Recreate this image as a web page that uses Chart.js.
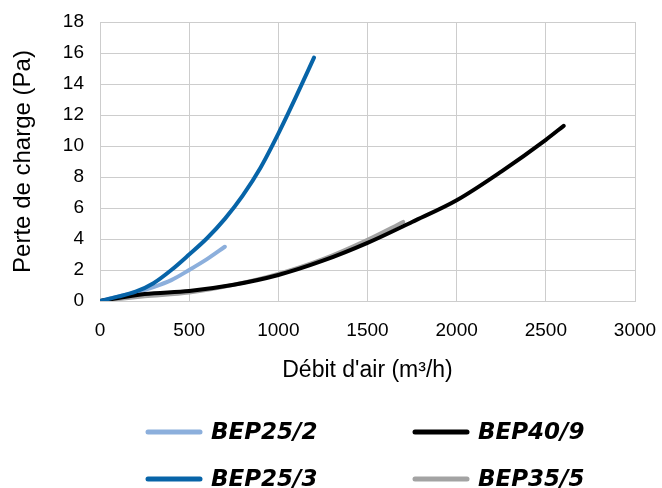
<!DOCTYPE html>
<html>
<head>
<meta charset="utf-8">
<script src="https://cdn.jsdelivr.net/npm/chart.js@4/dist/chart.umd.min.js"></script>
<style>
  body { margin: 0; background: #fff; }
  canvas { display: block; }
</style>
</head>
<body>
<canvas id="pertesChart" width="662" height="488"></canvas>
<script>
// ---------- DATA ----------
const seriesNames = ["BEP25/2", "BEP40/9", "BEP25/3", "BEP35/5"];

const bep25_2_debit = [0, 100, 200, 300, 400, 500, 600, 700];
const bep25_2_perte = [0, 0.28, 0.55, 0.9, 1.35, 2.0, 2.7, 3.5];

const bep40_9_debit = [0, 250, 500, 750, 1000, 1250, 1500, 1750, 2000, 2250, 2500, 2600];
const bep40_9_perte = [0, 0.45, 0.65, 1.05, 1.68, 2.6, 3.75, 5.1, 6.5, 8.35, 10.4, 11.3];

const bep25_3_debit = [0, 100, 200, 300, 400, 500, 600, 700, 800, 900, 1000, 1100, 1200];
const bep25_3_perte = [0, 0.28, 0.6, 1.15, 2.0, 3.0, 4.05, 5.3, 6.8, 8.6, 10.8, 13.2, 15.7];

const bep35_5_debit = [0, 250, 500, 750, 1000, 1250, 1500, 1700];
const bep35_5_perte = [0, 0.3, 0.55, 1.05, 1.75, 2.7, 3.95, 5.1];

const xTicks = [0, 500, 1000, 1500, 2000, 2500, 3000];
const yTicks = [0, 2, 4, 6, 8, 10, 12, 14, 16, 18];

const toPoints = (xs, ys) => xs.map((x, i) => ({ x: x, y: ys[i] }));

// ---------- LEGEND (2 x 2 grid under the plot) ----------
const gridLegend = {
  id: "gridLegend",
  afterDraw(chart) {
    const ctx = chart.ctx;
    const cols = [146, 413];
    const rows = [432, 479];
    ctx.save();
    ctx.font = "italic bold 23px 'DejaVu Sans'";
    ctx.textBaseline = "middle";
    ctx.textAlign = "left";
    chart.data.datasets.forEach((ds, i) => {
      const x = cols[i % 2];
      const y = rows[Math.floor(i / 2)];
      ctx.strokeStyle = ds.borderColor;
      ctx.lineWidth = 5;
      ctx.lineCap = "round";
      ctx.beginPath();
      ctx.moveTo(x + 2, y);
      ctx.lineTo(x + 54, y);
      ctx.stroke();
      ctx.fillStyle = "#000";
      ctx.fillText(ds.label, x + 65, y + 1);
    });
    ctx.restore();
  }
};

const lineDs = (label, xs, ys, color, order) => ({
  label: label,
  data: toPoints(xs, ys),
  borderColor: color,
  backgroundColor: color,
  borderWidth: 4,
  borderCapStyle: "round",
  pointRadius: 0,
  fill: false,
  cubicInterpolationMode: "monotone",
  order: order
});

new Chart(document.getElementById("pertesChart"), {
  type: "line",
  data: {
    datasets: [
      lineDs(seriesNames[0], bep25_2_debit, bep25_2_perte, "#8cafdc", 2),
      lineDs(seriesNames[1], bep40_9_debit, bep40_9_perte, "#000000", 1),
      lineDs(seriesNames[2], bep25_3_debit, bep25_3_perte, "#0764a8", 0),
      lineDs(seriesNames[3], bep35_5_debit, bep35_5_perte, "#a3a3a3", 3)
    ]
  },
  options: {
    responsive: false,
    animation: false,
    layout: { padding: { top: 22, right: 27, bottom: 0, left: 0 } },
    plugins: {
      legend: { display: false },
      tooltip: { enabled: false }
    },
    scales: {
      x: {
        type: "linear",
        min: 0,
        max: 3000,
        afterFit: s => { s.height = 187; s.paddingLeft = 0; s.paddingRight = 0; },
        afterBuildTicks: s => { s.ticks = xTicks.map(v => ({ value: v })); },
        grid: { color: "#cdcdcd", lineWidth: 1, drawTicks: false },
        border: { color: "#cdcdcd" },
        ticks: {
          padding: 18,
          color: "#000",
          font: { family: "'Liberation Sans'", size: 19 },
          callback: v => String(v)
        },
        title: {
          display: true,
          text: "Débit d'air (m³/h)",
          color: "#000",
          font: { family: "'Liberation Sans'", size: 23 },
          padding: { top: 0, bottom: 104 }
        }
      },
      y: {
        min: 0,
        max: 18,
        afterFit: s => { s.width = 100; s.paddingTop = 0; s.paddingBottom = 0; },
        afterBuildTicks: s => { s.ticks = yTicks.map(v => ({ value: v })); },
        grid: { color: "#cdcdcd", lineWidth: 1, drawTicks: false },
        border: { color: "#cdcdcd" },
        ticks: {
          padding: 16,
          color: "#000",
          font: { family: "'Liberation Sans'", size: 19 },
          callback: v => String(v)
        },
        title: {
          display: true,
          text: "Perte de charge (Pa)",
          color: "#000",
          font: { family: "'Liberation Sans'", size: 24 },
          padding: { top: 9, bottom: 0 }
        }
      }
    }
  },
  plugins: [gridLegend]
});
</script>
</body>
</html>
